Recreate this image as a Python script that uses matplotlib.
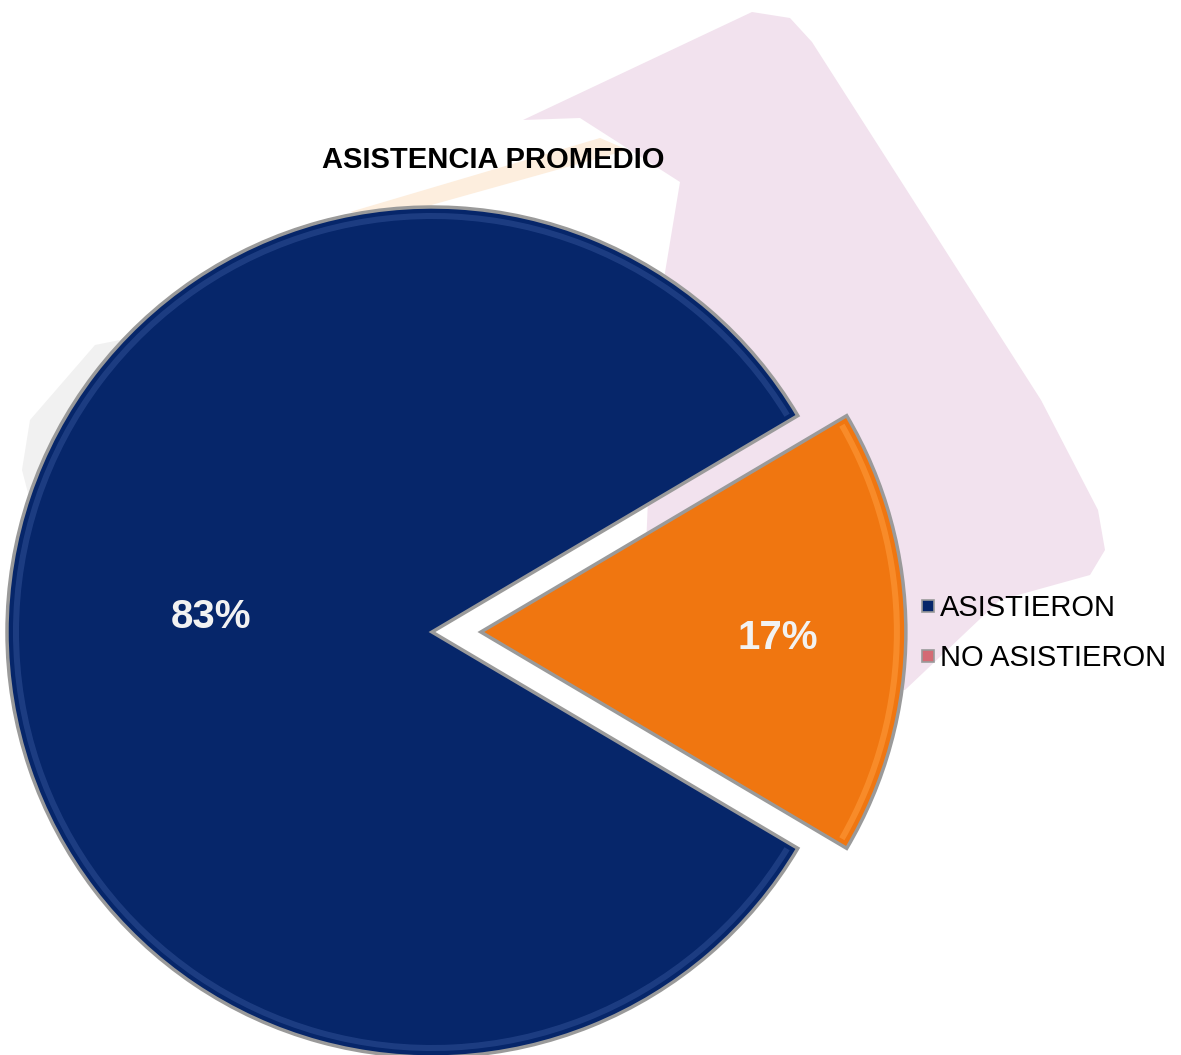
import numpy as np
import matplotlib.pyplot as plt
from matplotlib.patches import Polygon, Wedge
from matplotlib.lines import Line2D

categories = ['ASISTIERON', 'NO ASISTIERON']
values = [83, 17]
colors = ['#06266a', '#f07610']
legend_colors = ['#06266a', '#d46a74']
title = 'ASISTENCIA PROMEDIO'

W, H = 1181, 1055
R = 425
plt.rcParams['font.family'] = ['Liberation Sans', 'DejaVu Sans']

fig = plt.figure(figsize=(W / 100, H / 100), dpi=100)
ax = fig.add_axes([0, 0, 1, 1])


def px(pts):
    # pixel coords (top origin) -> data coords
    return [(x, H - y) for x, y in pts]


# faint watermark behind the chart
pink = [(523, 120), (752, 12), (790, 18), (812, 42), (1041, 400), (1098, 510),
        (1105, 550), (1090, 575), (1000, 600), (905, 690), (640, 690),
        (655, 333), (680, 182), (580, 118)]
ax.add_patch(Polygon(px(pink), closed=True, fc='#f2e2ee', ec='none', zorder=0))
stripe = [(600, 138), (628, 150), (385, 218), (350, 212)]
ax.add_patch(Polygon(px(stripe), closed=True, fc='#fdeede', ec='none', zorder=0))
grey = [(30, 420), (95, 345), (120, 340), (35, 520), (22, 470)]
ax.add_patch(Polygon(px(grey), closed=True, fc='#f1f1f1', ec='none', zorder=0))

explode = [0, 0.115 * R]
wedges, _ = ax.pie(values, colors=colors, explode=explode, startangle=30.6,
                   radius=R, center=(432, H - 632),
                   wedgeprops=dict(edgecolor='#9a9a9a', linewidth=2.5, zorder=2))

# bevel highlight
rims = ['#2c4c92', '#ff9a3a']
for w, c in zip(wedges, rims):
    ax.add_patch(Wedge(w.center, w.r - 6, w.theta1 + 0.8, w.theta2 - 0.8,
                       width=6, fc=c, ec='none', alpha=0.6, zorder=3))

# percentage labels
dist = [0.52, 0.70]
shift = [-4.0, -1.2]
for w, v, d, s in zip(wedges, values, dist, shift):
    t = np.deg2rad((w.theta1 + w.theta2) / 2 + s)
    x = w.center[0] + d * w.r * np.cos(t)
    y = w.center[1] + d * w.r * np.sin(t)
    ax.text(x, y, f'{v}%', color='#f2f2f2', fontsize=29, fontweight='bold',
            ha='center', va='center', zorder=4)

ax.set_xlim(0, W)
ax.set_ylim(0, H)
ax.set_aspect('equal')
ax.axis('off')

fig.text(493 / W, 1 - 160 / H, title, fontsize=21, fontweight='bold',
         ha='center', va='center')

handles = [Line2D([], [], marker='s', ls='none', markersize=8, markerfacecolor=c,
                  markeredgecolor='#9a9a9a', markeredgewidth=1.2)
           for c in legend_colors]
fig.legend(handles, categories, loc='center left',
           bbox_to_anchor=(921 / W, 1 - 633 / H), frameon=False, fontsize=21,
           handlelength=0.45, handletextpad=0.2, labelspacing=0.75,
           borderpad=0, borderaxespad=0)

fig.savefig('out.png', dpi=100)
